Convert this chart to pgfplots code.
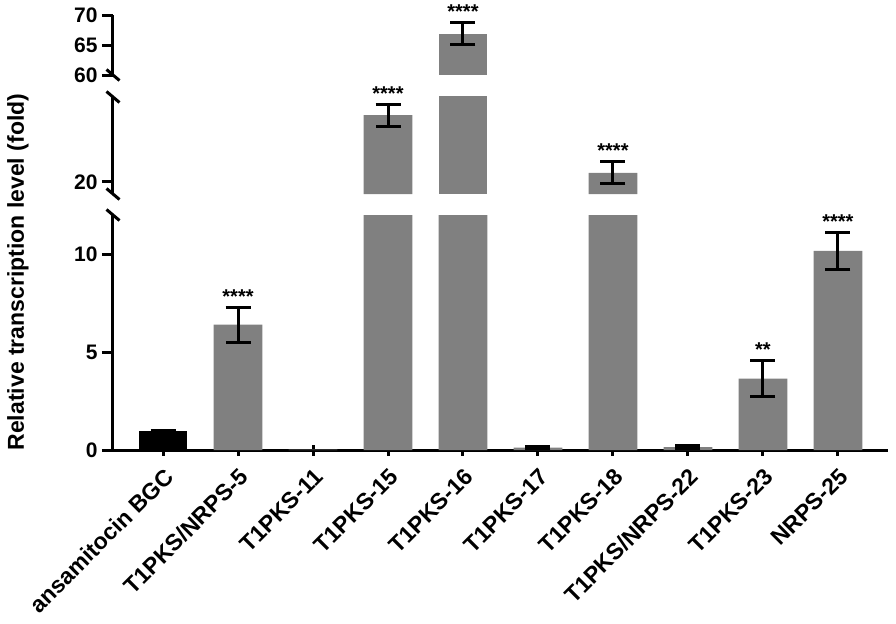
\documentclass[border=0pt]{standalone}
\usepackage{fontspec}
\setmainfont{Liberation Sans}
\usepackage{pgfplots}
\pgfplotsset{compat=1.18}

\definecolor{barg}{HTML}{808080}

\pgfplotsset{
  seg/.style={
    scale only axis, width=387.5pt,
    xmin=-0.667, xmax=9.667,
    axis y line=left,
    y axis line style={-, line width=1.5pt},
    tick align=outside, major tick length=5.5pt,
    every tick/.style={black, line width=1.5pt},
    yticklabel style={font=\fontsize{10.5}{12}\selectfont\bfseries, inner sep=2pt},
    /pgf/number format/assume math mode=true,
    clip=true,
  },
  bars/.style={ybar, bar width=0.65, bar shift=0pt, draw=none, fill=#1},
  err/.style={error bars/.cd, y dir=both, y explicit,
    error bar style={line width=1.5pt, black},
    error mark options={rotate=90, mark size=6.25pt, line width=1.5pt, black}},
  sig/.style={draw=none, nodes near coords, point meta=explicit symbolic,
    every node near coord/.style={anchor=base, inner sep=0pt, yshift=2pt,
      font=\fontsize{10}{12}\selectfont\bfseries}},
}

\begin{document}
\begin{tikzpicture}
\path[use as bounding box] (0,0) rectangle (448pt,311.5pt);

% lower segment 0-12
\begin{axis}[seg, name=bot, at={(56.5pt,86.5pt)}, anchor=south west,
  height=117.5pt, ymin=0, ymax=12, ytick={0,5,10},
  axis x line=bottom, x axis line style={-, line width=1.5pt},
  xtick={0,...,9},
  xticklabels={ansamitocin BGC, T1PKS/NRPS-5, T1PKS-11, T1PKS-15, T1PKS-16,
    T1PKS-17, T1PKS-18, T1PKS/NRPS-22, T1PKS-23, NRPS-25},
  xticklabel shift=4pt,
  xticklabel style={rotate=45, anchor=north east, inner sep=1pt,
    font=\fontsize{11.5}{13}\selectfont\bfseries},
  ylabel={Relative transcription level (fold)},
  every axis y label/.style={at={(rel axis cs:-0.1226,0.757)}, rotate=90,
    anchor=center, font=\fontsize{11.5}{13}\selectfont\bfseries},
]
\addplot[bars=black, err] coordinates {(0,0.95) +- (0,0.05)};
\addplot[bars=barg, err] coordinates {
  (1,6.4) +- (0,0.9)
  (5,0.12) +- (0,0.05)
  (7,0.15) +- (0,0.07)
  (8,3.65) +- (0,0.9)
  (9,10.17) +- (0,0.96)
};
\addplot[bars=barg] coordinates {(2,0.02) (3,31) (4,66.9) (6,21.5)};
\addplot[sig] coordinates {(1,7.3) [****] (8,4.55) [**] (9,11.13) [****]};
\end{axis}

% middle segment 18-34
\begin{axis}[seg, name=mid, at={(56.5pt,214.5pt)}, anchor=south west,
  height=48.5pt, ymin=18, ymax=34, ytick={20},
  axis x line=none, xtick=\empty,
]
\addplot[bars=barg, err] coordinates {
  (3,31) +- (0,1.8)
  (6,21.5) +- (0,1.8)
};
\addplot[bars=barg] coordinates {(4,66.9)};
\addplot[sig] coordinates {(3,32.8) [****] (6,23.3) [****]};
\end{axis}

% upper segment 60-70
\begin{axis}[seg, name=top, at={(56.5pt,274pt)}, anchor=south west,
  height=30pt, ymin=60, ymax=70, ytick={60,65,70},
  axis x line=none, xtick=\empty,
]
\addplot[bars=barg, err] coordinates {(4,66.9) +- (0,1.8)};
\addplot[sig] coordinates {(4,68.7) [****]};
\end{axis}

% axis break marks
\foreach \p in {bot.north west, mid.south west, mid.north west, top.south west}
  \draw[line width=1.5pt] (\p) ++(-3.25pt,2.75pt) -- ++(6.5pt,-5.5pt);
\end{tikzpicture}
\end{document}
